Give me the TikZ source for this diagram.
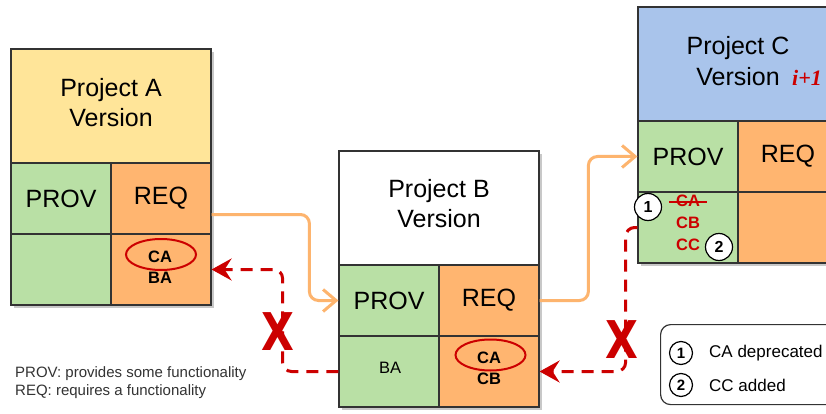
\documentclass[tikz,border=0pt]{standalone}
\usepackage{fontspec}
\setmainfont{Liberation Sans}
\newfontfamily\serifface{Liberation Serif}
\newfontfamily\heavyface{DejaVu Sans}
\usetikzlibrary{arrows.meta,shapes.geometric,calc}
\definecolor{hdrYellow}{HTML}{FFE599}
\definecolor{hdrBlue}{HTML}{A9C4EB}
\definecolor{provGreen}{HTML}{B9E0A5}
\definecolor{reqOrange}{HTML}{FFB570}
\definecolor{linkOrange}{HTML}{FDB46E}
\definecolor{alertRed}{HTML}{CC0000}
\definecolor{edgeGray}{HTML}{333333}
\definecolor{shadeGray}{HTML}{C8C8C8}
\definecolor{noteGray}{HTML}{333333}
\begin{document}
\begin{tikzpicture}[x=1pt,y=-1pt,
  cell/.style={draw=edgeGray, line width=1.2pt, minimum width=100pt, minimum height=71pt,
    inner sep=0pt, font=\fontsize{25}{30}\selectfont},
  headcell/.style={cell, minimum width=200pt, minimum height=114pt},
  shadowbox/.style={fill=shadeGray},
  titleline/.style={anchor=base, inner sep=0pt, font=\fontsize{25}{30}\selectfont},
  tag/.style={inner sep=0pt, font=\fontsize{16.5}{20}\selectfont\bfseries},
  plaintag/.style={inner sep=0pt, font=\fontsize{16.5}{20}\selectfont},
  ring/.style={draw=alertRed, line width=2pt, ellipse, inner sep=0pt, minimum width=70pt, minimum height=31pt},
  badge/.style={circle, draw=black, fill=white, line width=1.2pt, inner sep=0pt,
    minimum size=27pt, font=\fontsize{16}{18}\selectfont\bfseries},
  keybadge/.style={badge, minimum size=23pt, font=\fontsize{15}{18}\selectfont\bfseries},
  provides/.style={draw=linkOrange, line width=3pt, rounded corners=9pt,
    -{Straight Barb[length=13pt,width=22pt]}},
  breaks/.style={draw=alertRed, line width=3pt, dash pattern=on 12pt off 8pt, rounded corners=9pt,
    -{Stealth[length=20pt,width=22pt,inset=7pt]}},
  cross/.style={text=alertRed, inner sep=0pt, xscale=0.82, font=\heavyface\fontsize{52}{52}\selectfont\bfseries},
  note/.style={anchor=base west, inner sep=0pt, text=noteGray, font=\fontsize{15}{18}\selectfont},
  keytext/.style={anchor=west, inner sep=0pt, font=\fontsize{17}{20}\selectfont}
]
\clip (0,0) rectangle (826,414);
\fill[white] (0,0) rectangle (826,414);

% ---------- Project A ----------
\fill[shadowbox] (14,52) rectangle (214,308);
\node[headcell, fill=hdrYellow] (ahead) at (111,106) {};
\node[titleline] (atitle1) at (111,97) {Project A};
\node[titleline] (atitle2) at (111,127) {Version};
\node[cell, fill=provGreen] (aprov) at (61,198.5) {PROV};
\node[cell, fill=reqOrange] (areq) at (161,198.5) {REQ};
\node[cell, fill=provGreen] (aprovs) at (61,269.5) {};
\node[cell, fill=reqOrange] (areqs) at (161,269.5) {};
\node[tag] (aca) at (160,257) {CA};
\node[tag] (aba) at (160,278) {BA};
\node[ring] (aring) at (161,254.5) {};

% ---------- Project B ----------
\fill[shadowbox] (342,154) rectangle (542,410);
\node[headcell, fill=white] (bhead) at (439,208) {};
\node[titleline] (btitle1) at (439,197) {Project B};
\node[titleline] (btitle2) at (439,227) {Version};
\node[cell, fill=provGreen] (bprov) at (389,300.5) {PROV};
\node[cell, fill=reqOrange] (breq) at (489,300.5) {REQ};
\node[cell, fill=provGreen] (bprovs) at (389,371.5) {};
\node[cell, fill=reqOrange] (breqs) at (489,371.5) {};
\node[plaintag] (bba) at (390,368) {BA};
\node[tag] (bca) at (489,357.5) {CA};
\node[tag] (bcb) at (489,379) {CB};
\node[ring] (bring) at (490.5,355) {};

% ---------- Project C ----------
\fill[shadowbox] (641,10) rectangle (841,266);
\node[headcell, fill=hdrBlue] (chead) at (738,64) {};
\node[titleline] (ctitle1) at (738,55) {Project C};
\node[titleline] (ctitle2) at (738,86) {Version};
\node[anchor=base west, inner sep=0pt, text=alertRed,
  font=\serifface\fontsize{22}{26}\selectfont\bfseries\itshape] (cver) at (792,86) {i+1};
\node[cell, fill=provGreen] (cprov) at (688,156.5) {PROV};
\node[cell, fill=reqOrange] (creq) at (788,156.5) {REQ};
\node[cell, fill=provGreen] (cprovs) at (688,227.5) {};
\node[cell, fill=reqOrange] (creqs) at (788,227.5) {};
\node[tag, text=alertRed] (cca) at (688,201) {CA};
\node[tag, text=alertRed] (ccb) at (688,223) {CB};
\node[tag, text=alertRed] (ccc) at (688,245) {CC};
\draw[alertRed, line width=1.6pt] ($(cca.west)+(-7,1)$) -- ($(cca.east)+(7,1)$);
\node[badge] (cone) at (648,207) {1};
\node[badge] (ctwo) at (719,247) {2};

% ---------- provides links ----------
\draw[provides] ($(areq.east)+(0,16)$) -| ($(bprov.west)+(-29,0)$) -- (bprov.west);
\draw[provides] (breq.east) -| ($(cprov.west)+(-49,0)$) -- (cprov.west);

% ---------- broken requirements ----------
\draw[breaks] (bprovs.west) -| ($(areqs.east)+(71,0)$) -- (areqs.east);
\draw[breaks] (cprovs.west) -| ($(breqs.east)+(86,0)$) -- (breqs.east);
\node[cross] (xone) at (278,332) {X};
\node[cross] (xtwo) at (622,340) {X};

% ---------- notes ----------
\node[note] (noteprov) at (15,377) {PROV: provides some functionality};
\node[note] (notereq) at (15,395) {REQ: requires a functionality};

\node[draw=edgeGray, line width=1.2pt, rounded corners=10pt, minimum width=190pt, minimum height=80pt,
  anchor=north west] (legend) at (660,324) {};
\node[keybadge] (lone) at (681,353) {1};
\node[keytext] (ltext1) at (709,353) {CA deprecated};
\node[keybadge] (ltwo) at (681,385) {2};
\node[keytext] (ltext2) at (709,385) {CC added};
\end{tikzpicture}
\end{document}
